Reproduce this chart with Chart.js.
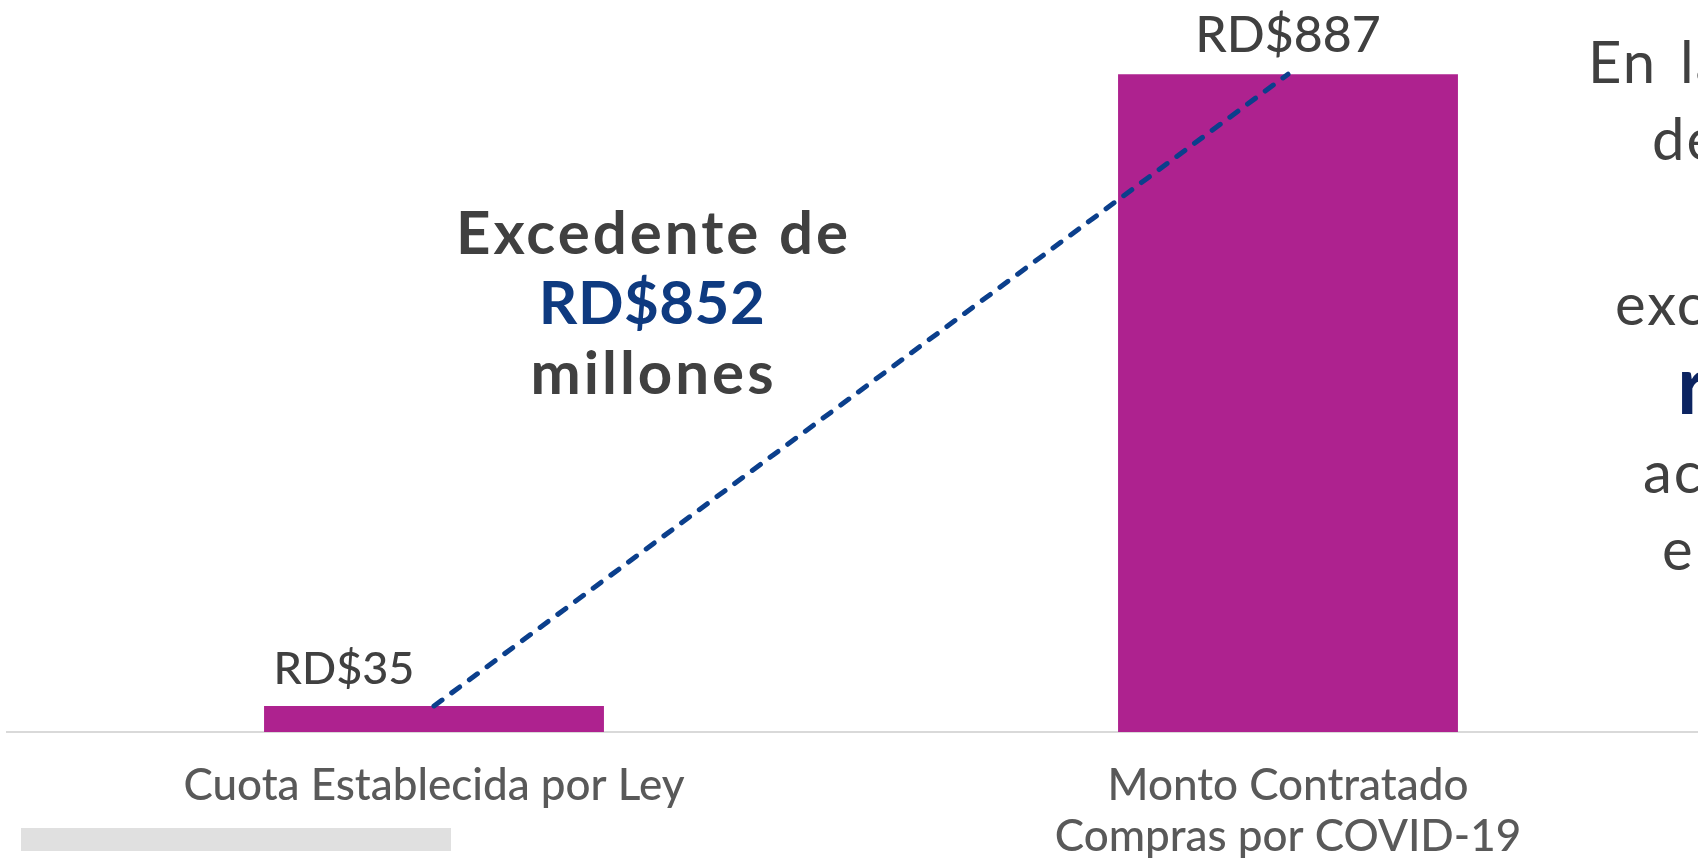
<!DOCTYPE html>
<html lang="es">
<head>
<meta charset="utf-8">
<title>Excedente compras COVID-19</title>
<script src="https://cdn.jsdelivr.net/npm/chart.js@4.4.1/dist/chart.umd.min.js"></script>
<style>
  html, body { margin: 0; padding: 0; background: #fff; width: 1698px; height: 858px; overflow: hidden; }
  #wrap { position: absolute; left: 0; top: 0; width: 1715px; height: 890px; }
  .side { position: absolute; white-space: nowrap; font-family: Lato, sans-serif; font-size: 58px; line-height: 1;
          color: #404040; letter-spacing: 2px; word-spacing: 6px; }
  .side.big { font-size: 83px; font-weight: bold; color: #0c2461; letter-spacing: 0; }
  #greyBar { position: absolute; left: 21px; top: 828px; width: 430px; height: 23px; background: #e0e0e0; }
</style>
</head>
<body>
<div id="wrap"><canvas id="chart"></canvas></div>

<!-- texto lateral, cortado por el borde derecho -->
<div class="side" style="left:1588px; top:31.6px;">En la contratación</div>
<div class="side" style="left:1652px; top:108.6px;">de emergencia</div>
<div class="side" style="left:1615px; top:273.6px;">excedente</div>
<div class="side big" style="left:1677px; top:341.4px;">recursos</div>
<div class="side" style="left:1643px; top:441.6px;">acumulado</div>
<div class="side" style="left:1662px; top:518.6px;">e incumpliendo</div>

<div id="greyBar"></div>

<script>
// datos
const categories = ['Cuota Establecida por Ley', ['Monto Contratado', 'Compras por COVID-19']];
const amounts = [35, 887];
const prefix = 'RD$';
const excess = amounts[1] - amounts[0];

// etiquetas de valor sobre las barras + nota del excedente
const labelPlugin = {
    id: 'barLabels',
    afterDatasetsDraw(chart) {
        const ctx = chart.ctx;
        const meta = chart.getDatasetMeta(1);
        const shift = [-90, 0];
        const sizes = [45, 50];
        ctx.save();
        ctx.textAlign = 'center';
        ctx.textBaseline = 'alphabetic';
        ctx.fillStyle = '#404040';
        meta.data.forEach((bar, i) => {
            ctx.font = '500 ' + sizes[i] + 'px Lato';
            ctx.fillText(prefix + amounts[i], bar.x + shift[i], bar.y - 22);
        });

        const cx = 652;
        ctx.font = 'bold 60px Lato';
        ctx.letterSpacing = '3px';
        ctx.fillText('Excedente de', cx + 1.5, 254);
        ctx.letterSpacing = '0.5px';
        ctx.fillStyle = '#0e3a80';
        ctx.fillText(prefix + excess, cx, 324);
        ctx.letterSpacing = '3px';
        ctx.fillStyle = '#404040';
        ctx.fillText('millones', cx + 1.5, 394);
        ctx.restore();
    }
};

const ctx = document.getElementById('chart').getContext('2d');
const chart = new Chart(ctx, {
    type: 'bar',
    data: {
        labels: categories,
        datasets: [{
            type: 'line',
            data: amounts,
            borderColor: '#0b3f8c',
            borderWidth: 5,
            borderDash: [10, 12],
            borderCapStyle: 'round',
            pointRadius: 0,
            fill: false,
            order: 0
        }, {
            type: 'bar',
            data: amounts,
            backgroundColor: '#ae228f',
            categoryPercentage: 1,
            barPercentage: 0.398,
            order: 1
        }]
    },
    options: {
        responsive: true,
        maintainAspectRatio: false,
        animation: false,
        layout: { padding: { left: 7, top: 0, right: 0, bottom: 0 } },
        plugins: {
            legend: { display: false },
            tooltip: { enabled: false }
        },
        scales: {
            x: {
                grid: { display: false, drawTicks: false },
                border: { display: true, color: '#d9d9d9', width: 2 },
                ticks: {
                    color: '#595959',
                    font: { family: 'Lato', size: 44, weight: '500', lineHeight: 1.16 },
                    padding: 28,
                    maxRotation: 0,
                    autoSkip: false
                }
            },
            y: {
                display: false,
                min: 0,
                max: 987
            }
        }
    },
    plugins: [labelPlugin]
});
</script>
</body>
</html>
